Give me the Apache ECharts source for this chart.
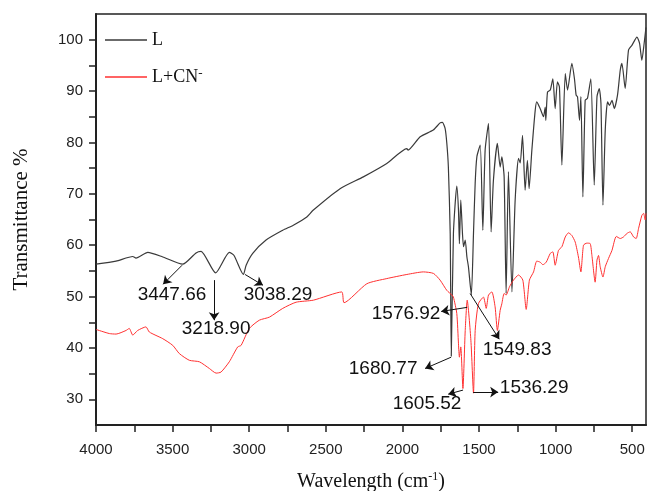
<!DOCTYPE html>
<html>
<head>
    <meta charset="utf-8">
    <title>IR spectrum</title>
    <script src="https://cdn.jsdelivr.net/npm/echarts@6/dist/echarts.min.js"></script>
    <style>
        html, body { margin: 0; padding: 0; background: #fff; }
        #chart_box { width: 647px; height: 491px; }
    </style>
</head>
<body>
    <div id="chart_box"></div>
    <script>
        // spectrum L (black)
        var wnL = [4000, 3869, 3760, 3739, 3662, 3564, 3434, 3347, 3314, 3219, 3130, 3099, 3038, 3020, 2977, 2890, 2781,
            2712, 2624, 2583, 2407, 2255, 2102, 1971, 1963, 1884, 1799, 1754, 1739, 1721, 1710, 1700, 1688, 1681,
            1667, 1645, 1634, 1628, 1619, 1608, 1601, 1590, 1579, 1569, 1550, 1536, 1525, 1514, 1492, 1475, 1460,
            1438, 1421, 1406, 1380, 1362, 1351, 1336, 1323, 1308, 1285, 1264, 1242, 1231, 1216, 1199, 1184, 1173,
            1155, 1133, 1123, 1101, 1079, 1068, 1064, 1053, 1035, 1018, 1003, 988, 975, 959, 937, 922, 894, 877,
            866, 857, 844, 835, 822, 807, 792, 770, 748, 730, 715, 704, 691, 676, 661, 648, 632, 617, 596, 578,
            567, 546, 524, 502, 469, 452, 437, 422, 410];
        var tL = [56.3, 56.9, 57.8, 57.5, 58.6, 57.7, 56.3, 58.5, 58.8, 54.6, 58.6, 58.0, 54.3, 56.1, 58.4, 61.0, 62.9,
            63.9, 65.5, 66.8, 71.0, 73.3, 75.9, 78.8, 78.5, 81.1, 82.4, 83.8, 83.9, 82.7, 79.8, 75.2, 62.3, 38.4,
            62.3, 71.5, 66.8, 60.3, 68.8, 62.3, 59.7, 61.0, 57.7, 55.8, 50.3, 62.3, 72.1, 77.2, 79.5, 62.9, 78.5,
            83.7, 62.6, 72.6, 79.8, 75.2, 77.2, 73.3, 50.6, 74.3, 50.9, 68.8, 76.9, 76.0, 81.4, 70.7, 76.5, 71.0,
            78.5, 86.3, 87.9, 86.6, 85.0, 86.9, 84.3, 89.8, 90.2, 92.4, 86.6, 91.8, 90.8, 75.6, 93.4, 90.2, 95.4, 92.4,
            89.2, 88.9, 84.3, 88.9, 69.4, 88.2, 88.6, 92.4, 71.7, 88.9, 90.5, 87.6, 67.8, 82.4, 87.9, 87.2, 88.2, 86.6, 89.2, 94.1,
            95.4, 90.5, 98.0, 98.9, 100.5, 99.3, 96.0, 99.3, 102.4];

        // spectrum L+CN- (red)
        var wnLCN = [4000, 3913, 3869, 3804, 3783, 3760, 3728, 3674, 3652, 3564, 3499, 3456, 3391, 3325, 3260, 3216,
            3184, 3130, 3075, 3053, 2999, 2934, 2868, 2781, 2694, 2581, 2396, 2381, 2232, 2102, 1971, 1863, 1797,
            1754, 1710, 1677, 1667, 1645, 1634, 1628, 1619, 1605, 1590, 1577, 1553, 1536, 1525, 1504, 1471, 1453,
            1438, 1416, 1395, 1380, 1362, 1351, 1336, 1323, 1301, 1275, 1242, 1214, 1192, 1171, 1144, 1123, 1101,
            1083, 1061, 1035, 1018, 1003, 981, 959, 937, 916, 894, 872, 851, 835, 818, 796, 774, 763, 742, 730,
            720, 709, 691, 676, 655, 632, 604, 578, 557, 534, 513, 491, 474, 459, 437, 426, 415, 410];
        var tLCN = [43.6, 42.8, 42.7, 43.4, 43.8, 42.5, 43.4, 44.1, 43.1, 41.8, 40.5, 38.9, 37.6, 37.3, 36.0, 35.1,
            35.3, 37.3, 40.2, 40.5, 43.8, 45.4, 46.0, 47.7, 48.9, 49.3, 50.9, 48.8, 52.5, 53.5, 54.3, 54.8, 54.5,
            53.2, 51.2, 50.3, 49.9, 46.7, 40.8, 38.2, 40.2, 32.1, 43.4, 49.3, 41.5, 31.2, 43.4, 48.6, 49.9, 47.7,
            50.3, 50.9, 48.0, 43.4, 47.3, 48.6, 50.6, 50.3, 51.9, 53.2, 54.2, 53.2, 47.5, 53.2, 54.8, 56.9, 56.7,
            56.2, 56.7, 58.4, 58.7, 56.1, 59.0, 59.7, 61.6, 62.4, 61.9, 60.6, 57.7, 54.8, 60.0, 60.4, 60.3, 58.0, 52.8, 57.1,
            58.0, 55.8, 53.8, 55.8, 57.4, 59.0, 61.7, 61.3, 61.6, 62.3, 62.6, 61.6, 61.3, 63.2, 65.8, 66.2, 64.9, 66.2];

        // axis ticks
        var xTicks = [500, 750, 1000, 1250, 1500, 1750, 2000, 2250, 2500, 2750, 3000, 3250, 3500, 3750, 4000];
        var xLabels = [500, 1000, 1500, 2000, 2500, 3000, 3500, 4000];
        var yTicks = [30, 35, 40, 45, 50, 55, 60, 65, 70, 75, 80, 85, 90, 95, 100];
        var yLabels = [30, 40, 50, 60, 70, 80, 90, 100];

        // peak annotations: label, label position, arrow start, arrow end (data units)
        var peakLabels = ['3447.66', '3218.90', '3038.29', '1576.92', '1549.83', '1680.77', '1605.52', '1536.29'];
        var peakTextAt = [[3504, 50.3], [3216, 43.8], [2812, 50.4], [1976, 46.7], [1251, 39.7], [2126, 36.0], [1839, 29.2], [1140, 32.3]];
        var arrowFrom = [[3438, 56.1], [3229, 53.2], [3027, 54.3], [1577, 47.9], [1558, 50.6], [1682, 38.2], [1604, 31.8], [1538, 31.4]];
        var arrowTo = [[3562, 52.4], [3229, 45.4], [2910, 52.2], [1747, 47.1], [1368, 41.7], [1852, 36.0], [1701, 31.0], [1375, 31.4]];

        var myChart = echarts.init(document.getElementById('chart_box'));

        function pairs(xs, ys) {
            var out = [];
            for (var i = 0; i < xs.length; i++) out.push([xs[i], ys[i]]);
            return out;
        }

        var arrows = [], texts = [];
        for (var i = 0; i < peakLabels.length; i++) {
            arrows.push([{ coord: arrowFrom[i] }, { coord: arrowTo[i] }]);
            texts.push({ name: peakLabels[i], coord: peakTextAt[i] });
        }

        var serif = '"Liberation Serif", "Times New Roman", serif';
        var sans = '"Liberation Sans", Arial, sans-serif';

        var option = {
            animation: false,
            grid: {
                left: 96, right: 1, top: 14, bottom: 66,
                outerBoundsMode: 'none',
                containLabel: false,
                show: true, borderColor: '#222', borderWidth: 1.5
            },
            legend: {
                orient: 'vertical',
                left: 100, top: 25,
                itemWidth: 42, itemHeight: 1.5, itemGap: 17,
                icon: 'rect',
                data: ['L', 'L+CN-'],
                formatter: function (name) {
                    return name === 'L' ? '{a|L}' : '{a|L+CN}{s|-}';
                },
                textStyle: {
                    fontFamily: serif, fontSize: 18, color: '#111', lineHeight: 20,
                    rich: {
                        a: { fontFamily: serif, fontSize: 18, color: '#111', lineHeight: 20 },
                        s: { fontFamily: serif, fontSize: 13, color: '#111', verticalAlign: 'top', lineHeight: 20, padding: [0, 0, 6, 0] }
                    }
                }
            },
            xAxis: {
                type: 'value',
                inverse: true,
                min: 410, max: 4000,
                name: '{a|Wavelength (cm}{s|-1}{a|)}',
                nameLocation: 'middle',
                nameGap: 46,
                nameTextStyle: {
                    rich: {
                        a: { fontFamily: serif, fontSize: 20, color: '#111', lineHeight: 22 },
                        s: { fontFamily: serif, fontSize: 12, color: '#111', verticalAlign: 'top', lineHeight: 22, padding: [0, 0, 8, 0] }
                    }
                },
                axisLine: { onZero: false, lineStyle: { color: '#222', width: 2 } },
                axisTick: { customValues: xTicks, length: 7, lineStyle: { color: '#222', width: 1.5 } },
                axisLabel: {
                    customValues: xLabels, color: '#222', fontSize: 15, fontFamily: sans, margin: 17,
                    formatter: function (v) { return String(v); }
                },
                splitLine: { show: false }
            },
            yAxis: {
                type: 'value',
                min: 25, max: 105,
                name: 'Transmittance %',
                nameLocation: 'middle',
                nameRotate: 90,
                nameGap: 64,
                nameTextStyle: { fontFamily: serif, fontSize: 21, color: '#111' },
                axisLine: { show: true, onZero: false, lineStyle: { color: '#222', width: 2 } },
                axisTick: { customValues: yTicks, length: 7, lineStyle: { color: '#222', width: 1.5 } },
                axisLabel: {
                    customValues: yLabels, color: '#222', fontSize: 15, fontFamily: sans, margin: 13,
                    formatter: function (v) { return String(v); }
                },
                splitLine: { show: false }
            },
            series: [{
                name: 'L',
                type: 'line',
                data: pairs(wnL, tL),
                showSymbol: false,
                smooth: 0.2,
                color: '#3a3a3a',
                lineStyle: { width: 1.2, color: '#3a3a3a' },
                markLine: {
                    silent: true,
                    symbol: ['none', 'arrow'],
                    symbolSize: 8,
                    label: { show: false },
                    lineStyle: { color: '#111', width: 1, type: 'solid' },
                    data: arrows
                },
                markPoint: {
                    silent: true,
                    symbol: 'rect',
                    symbolSize: 1,
                    itemStyle: { color: 'rgba(0,0,0,0)' },
                    label: {
                        show: true, position: 'inside', formatter: '{b}',
                        fontFamily: sans, fontSize: 19, color: '#111'
                    },
                    data: texts
                }
            }, {
                name: 'L+CN-',
                type: 'line',
                data: pairs(wnLCN, tLCN),
                showSymbol: false,
                smooth: 0.2,
                color: '#ff3030',
                lineStyle: { width: 1, color: '#ff3030' }
            }]
        };
        myChart.setOption(option);
    </script>
</body>
</html>
